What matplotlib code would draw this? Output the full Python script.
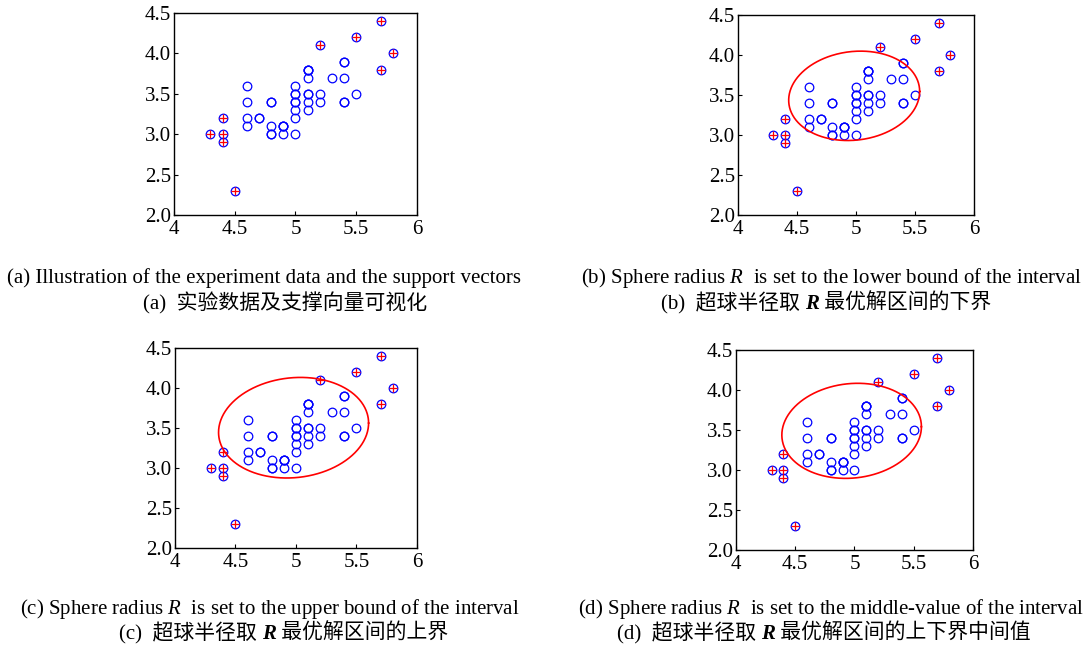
import numpy as np
import matplotlib
matplotlib.use("Agg")
import matplotlib.pyplot as plt
from matplotlib.offsetbox import TextArea, HPacker, AnchoredOffsetbox

plt.rcParams['font.family'] = ['Liberation Serif', 'Noto Sans CJK SC']
plt.rcParams['mathtext.fontset'] = 'custom'
plt.rcParams['mathtext.rm'] = 'Liberation Serif'
plt.rcParams['mathtext.it'] = 'Liberation Serif:italic'

# Iris setosa: sepal length / sepal width
sepal_length = [5.1, 4.9, 4.7, 4.6, 5.0, 5.4, 4.6, 5.0, 4.4, 4.9,
                5.4, 4.8, 4.8, 4.3, 5.8, 5.7, 5.4, 5.1, 5.7, 5.1,
                5.4, 5.1, 4.6, 5.1, 4.8, 5.0, 5.0, 5.2, 5.2, 4.7,
                4.8, 5.4, 5.2, 5.5, 4.9, 5.0, 5.5, 4.9, 4.4, 5.1,
                5.0, 4.5, 4.4, 5.0, 5.1, 4.8, 5.1, 4.6, 5.3, 5.0]
sepal_width = [3.5, 3.0, 3.2, 3.1, 3.6, 3.9, 3.4, 3.4, 2.9, 3.1,
               3.7, 3.4, 3.0, 3.0, 4.0, 4.4, 3.9, 3.5, 3.8, 3.8,
               3.4, 3.7, 3.6, 3.3, 3.4, 3.0, 3.4, 3.5, 3.4, 3.2,
               3.1, 3.4, 4.1, 4.2, 3.1, 3.2, 3.5, 3.1, 3.0, 3.4,
               3.5, 2.3, 3.2, 3.5, 3.8, 3.0, 3.8, 3.2, 3.7, 3.3]

# support vectors
sv_x = [4.3, 4.4, 4.4, 4.4, 4.5, 5.2, 5.5, 5.7, 5.8, 5.7]
sv_y = [3.0, 3.2, 3.0, 2.9, 2.3, 4.1, 4.2, 4.4, 4.0, 3.8]

# boundary (ellipse) params for panels b, c, d: centre x, centre y, half-width, half-height, tilt
ell_cx = [4.985, 4.98, 4.976]
ell_cy = [3.49, 3.504, 3.49]
ell_a = [0.555, 0.62, 0.589]
ell_b = [0.556, 0.626, 0.592]
ell_s = [0.055, 0.058, 0.052]

x_ticks = [4, 4.5, 5, 5.5, 6]
x_ticklabels = ['4', '4.5', '5', '5.5', '6']
y_ticks = [2.0, 2.5, 3.0, 3.5, 4.0, 4.5]
y_ticklabels = ['2.0', '2.5', '3.0', '3.5', '4.0', '4.5']

cap_en = ["(a) Illustration of the experiment data and the support vectors",
          "(b) Sphere radius $R$  is set to the lower bound of the interval",
          "(c) Sphere radius $R$  is set to the upper bound of the interval",
          "(d) Sphere radius $R$  is set to the middle-value of the interval"]
# Chinese captions split around the bold-italic R
cap_zh_pre = ["(a)  实验数据及支撑向量可视化",
              "(b)  超球半径取 ",
              "(c)  超球半径取 ",
              "(d)  超球半径取 "]
cap_zh_sym = ["", "R", "R", "R"]
cap_zh_post = ["",
               " 最优解区间的下界",
               " 最优解区间的上界",
               " 最优解区间的上下界中间值"]

fig = plt.figure(figsize=(10.91, 6.48), dpi=100)

axes_pos = [[0.1595, 0.6682, 0.2227, 0.3117],
            [0.6764, 0.6682, 0.2163, 0.3086],
            [0.1604, 0.1543, 0.2218, 0.3086],
            [0.6746, 0.1512, 0.2172, 0.3086]]
cap_x_en = [0.242, 0.762, 0.247, 0.762]
cap_x_zh = [0.261, 0.757, 0.260, 0.755]
cap_y_en = [0.571, 0.571, 0.060, 0.060]
cap_y_zh = [0.532, 0.532, 0.023, 0.023]

fs_cap = 15

t = np.linspace(0, 2 * np.pi, 400)
for i, pos in enumerate(axes_pos):
    ax = fig.add_axes(pos)
    ax.plot(sepal_length, sepal_width, 'o', ms=6.2, mfc='none', mec='blue', mew=0.9)
    ax.plot(sv_x, sv_y, '+', ms=6, color='red', mew=0.9)
    if i > 0:
        k = i - 1
        ex = ell_cx[k] + ell_a[k] * np.cos(t)
        ey = ell_cy[k] + ell_b[k] * np.sin(t) + ell_s[k] * np.cos(t)
        ax.plot(ex, ey, '-', color='red', lw=1.2)
    ax.set_xlim(4, 6)
    ax.set_ylim(2.0, 4.5)
    ax.set_xticks(x_ticks)
    ax.set_xticklabels(x_ticklabels)
    ax.set_yticks(y_ticks)
    ax.set_yticklabels(y_ticklabels)
    ax.tick_params(direction='in', length=3, width=0.8, labelsize=15)
    ax.tick_params(axis='x', pad=3.5)
    ax.tick_params(axis='y', pad=2)
    for sp in ax.spines.values():
        sp.set_linewidth(1.0)

    fig.text(cap_x_en[i], cap_y_en[i], cap_en[i], ha='center', va='center', fontsize=fs_cap)

    parts = [TextArea(cap_zh_pre[i], textprops=dict(fontsize=fs_cap))]
    if cap_zh_sym[i]:
        parts.append(TextArea(cap_zh_sym[i], textprops=dict(fontsize=fs_cap, style='italic',
                                                            weight='bold')))
        parts.append(TextArea(cap_zh_post[i], textprops=dict(fontsize=fs_cap)))
    pack = HPacker(children=parts, align='baseline', pad=0, sep=0)
    anch = AnchoredOffsetbox(loc='center', child=pack, pad=0, borderpad=0, frameon=False,
                             bbox_to_anchor=(cap_x_zh[i], cap_y_zh[i]),
                             bbox_transform=fig.transFigure)
    fig.add_artist(anch)

fig.savefig('out.png', dpi=100)
